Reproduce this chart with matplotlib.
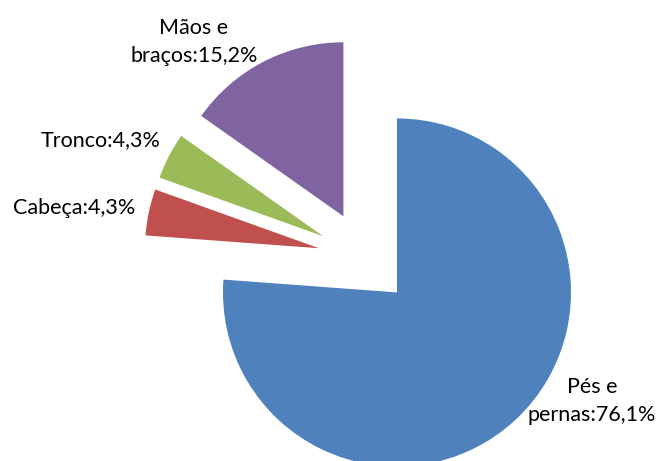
import matplotlib.pyplot as plt

plt.rcParams['font.family'] = ['Lato', 'DejaVu Sans']

# clockwise from 12 o'clock
partes = ['Pés e\npernas', 'Cabeça', 'Tronco', 'Mãos e\nbraços']
percentuais = [76.1, 4.3, 4.3, 15.2]
cores = ['#4F81BD', '#C0504D', '#9BBB59', '#8064A2']

# label anchor points (data units, pie radius = 1)
pos_rotulos = [(1.305, -0.822), (-1.672, 0.287), (-1.517, 0.678), (-0.983, 1.241)]

fig = plt.figure(figsize=(6.59, 4.61), dpi=100)
ax = fig.add_axes([0, 0, 1, 1])

ax.pie(
    percentuais,
    colors=cores,
    startangle=90,
    counterclock=False,
    explode=[0.27] * len(percentuais),
    wedgeprops=dict(linewidth=0),
)

for nome, pct, (x, y) in zip(partes, percentuais, pos_rotulos):
    texto = '{}:{}%'.format(nome, str(pct).replace('.', ','))
    ax.text(x, y, texto, ha='center', va='center', fontsize=15.5,
            color='#000000', linespacing=1.5)

r = 174.0
ax.set_aspect('auto')
ax.set_xlim(-365 / r, 294 / r)
ax.set_ylim(-203 / r, 258 / r)
ax.axis('off')

fig.savefig('out.png', dpi=100)
